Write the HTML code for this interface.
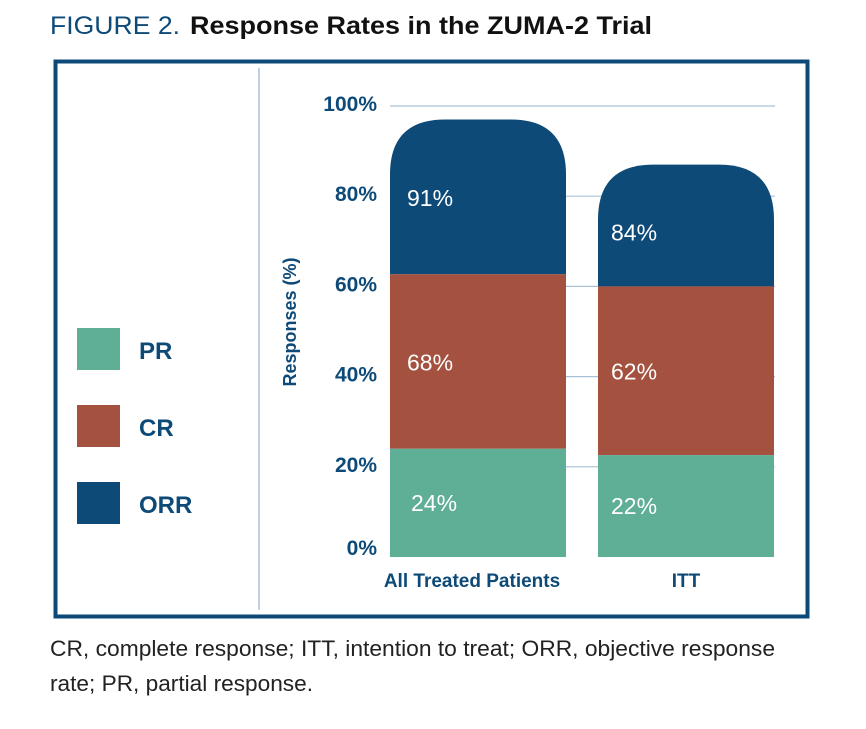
<!DOCTYPE html>
<html><head><meta charset="utf-8"><style>
body{margin:0;width:866px;height:724px;background:#fff;overflow:hidden;font-family:"Liberation Sans",sans-serif}
svg text{font-family:"Liberation Sans",sans-serif}
</style></head><body>
<svg width="866" height="724">
<text x="50" y="34" font-size="25" fill="#0e4a78" textLength="130" lengthAdjust="spacingAndGlyphs">FIGURE 2.</text>
<text x="190" y="34" font-size="25" font-weight="bold" fill="#111" textLength="462" lengthAdjust="spacingAndGlyphs">Response Rates in the ZUMA-2 Trial</text>
<rect x="55.5" y="61.5" width="752" height="555" fill="none" stroke="#0e4a78" stroke-width="4"/>
<line x1="259" y1="68" x2="259" y2="610" stroke="#a9c0d8" stroke-width="1.5"/>
<g id="legend"></g>
<g id="chart"></g>
<text x="50" y="656" font-size="22" fill="#222" textLength="725" lengthAdjust="spacingAndGlyphs">CR, complete response; ITT, intention to treat; ORR, objective response</text>
<text x="50" y="691" font-size="22" fill="#222" textLength="263" lengthAdjust="spacingAndGlyphs">rate; PR, partial response.</text>
</svg>
<script>
const categories=["All Treated Patients","ITT"];
const prTop=[24,22.6];
const crTop=[62.7,60];
const orrTop=[97,87];
const prLabels=["24%","22%"];
const crLabels=["68%","62%"];
const orrLabels=["91%","84%"];
const ticks=[0,20,40,60,80,100];
const tickLabels=["0%","20%","40%","60%","80%","100%"];
const seriesNames=["PR","CR","ORR"];
const colors={PR:"#5fae96",CR:"#a4513f",ORR:"#0e4a78"};
const NS="http://www.w3.org/2000/svg";
const y0=557,pxPer=4.51;
const y=v=>y0-v*pxPer;
const barX=[390,598],barW=176;
const g=document.getElementById('chart');
function mk(tag,attrs,parent,text){const e=document.createElementNS(NS,tag);for(const k in attrs)e.setAttribute(k,attrs[k]);if(text!==undefined)e.textContent=text;parent.appendChild(e);return e;}
ticks.forEach((t,i)=>{
 if(t>0){const gl=mk('line',{x1:390,x2:775,y1:y(t),y2:y(t),stroke:'#a9c0d8','stroke-width':1.2},g);
 
 }
 const tl=mk('text',{x:377,y:y(t)+5-(t===0?7:0),'text-anchor':'end','font-size':21,'font-weight':'bold',fill:'#0e4a78'},g,tickLabels[i]);
 
 
});
const yt=mk('text',{transform:'translate(296,322) rotate(-90)','text-anchor':'middle','font-size':18,'font-weight':'bold',fill:'#0e4a78'},g,'Responses (%)');


categories.forEach((c,i)=>{
 const x=barX[i];
 const top=y(orrTop[i]),bot=y(crTop[i]),r=55;
 const p=mk('path',{d:`M${x},${bot} L${x},${top+r} Q${x},${top} ${x+r},${top} L${x+barW-r},${top} Q${x+barW},${top} ${x+barW},${top+r} L${x+barW},${bot} Z`,fill:colors.ORR},g);
 
 
 const cr=mk('rect',{x:x,y:y(crTop[i]),width:barW,height:y(prTop[i])-y(crTop[i]),fill:colors.CR},g);
 
 
 const pr=mk('rect',{x:x,y:y(prTop[i]),width:barW,height:y0-y(prTop[i]),fill:colors.PR},g);
 
 
 const lx=x+(i===0?17:13);
 const l1=mk('text',{x:lx+(i===0?4:0),y:(y(prTop[i])+y0)/2+8,'font-size':23,fill:'#fff'},g,prLabels[i]);
 
 
 const l2=mk('text',{x:lx,y:(y(crTop[i])+y(prTop[i]))/2+9,'font-size':23,fill:'#fff'},g,crLabels[i]);
 
 
 const l3=mk('text',{x:lx,y:(top+bot)/2+15-(i===0?6:0),'font-size':23,fill:'#fff'},g,orrLabels[i]);
 
 
 const cl=mk('text',{x:x+barW/2-(i===0?6:0),y:587,'text-anchor':'middle','font-size':19,'font-weight':'bold',fill:'#0e4a78'},g,c);
 
 
});
const lg=document.getElementById('legend');
seriesNames.forEach((s,i)=>{
 const yy=328+i*77;
 const sw=mk('rect',{x:77,y:yy,width:43,height:42,fill:colors[s]},lg);
 
 
 const t=mk('text',{x:139,y:yy+31,'font-size':24,'font-weight':'bold',fill:'#0e4a78'},lg,s);
 
 
});
</script>
</body></html>
